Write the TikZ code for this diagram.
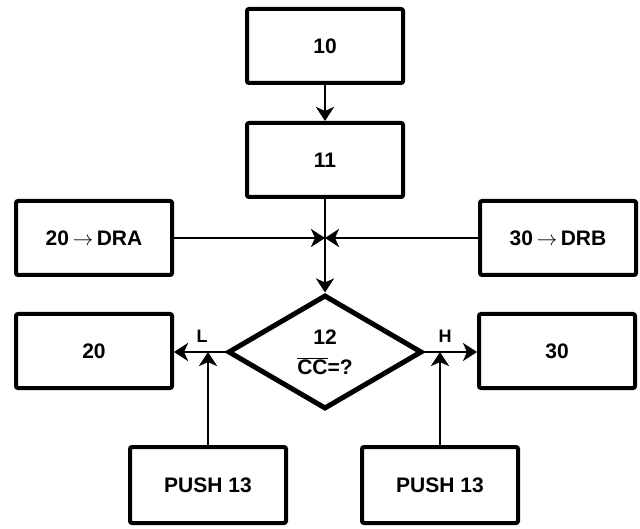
\documentclass[tikz,border=0pt]{standalone}
\usepackage{fontspec}
\setmainfont{Liberation Sans}
\usetikzlibrary{shapes.geometric,arrows.meta}
\begin{document}
\begin{tikzpicture}[x=1pt,y=-1pt,
  box/.style={draw,line width=4pt,rounded corners=2pt,minimum width=156pt,minimum height=74pt,inner sep=0pt,
    font=\bfseries\fontsize{21}{24}\selectfont},
  dia/.style={draw,diamond,line width=5pt,minimum width=194pt,minimum height=114pt,inner sep=0pt,align=center,
    font=\bfseries\fontsize{21}{30}\selectfont},
  conn/.style={line width=2.5pt},
  arr/.style={conn,-{Stealth[length=14pt,width=18pt,inset=4pt]}},
  lab/.style={font=\bfseries\fontsize{18}{20}\selectfont,inner sep=0pt}]
\useasboundingbox (0,0) rectangle (640,529);
\node[box] (b10) at (325,46) {10};
\node[box] (b11) at (325,160) {11};
\node[box] (dra) at (94,238) {20\,$\rightarrow$\,DRA};
\node[box] (drb) at (558,238) {30\,$\rightarrow$\,DRB};
\node[dia] (d12) at (325,352) {12\\$\overline{\mbox{CC}}$=?};
\node[box] (b20) at (94,351) {20};
\node[box] (b30) at (557,351) {30};
\node[box,minimum height=76pt] (p1) at (208,485) {PUSH 13};
\node[box,minimum height=76pt] (p2) at (440,485) {PUSH 13};
\coordinate (j) at (325,238);
\node[lab] (L) at (202,336) {L};
\node[lab] (H) at (445,336) {H};
\draw[arr] (b10.south) -- (b11.north);
\draw[arr] (b11.south) -- (d12.north);
\draw[arr] (dra.east) -- (j);
\draw[arr] (drb.west) -- (j);
\draw[arr] (d12.west) -- (b20.east |- d12.west);
\draw[arr] (d12.east) -- (b30.west |- d12.east);
\draw[arr] (p1.north) -- (p1.north |- d12.west);
\draw[arr] (p2.north) -- (p2.north |- d12.east);
\end{tikzpicture}
\end{document}
